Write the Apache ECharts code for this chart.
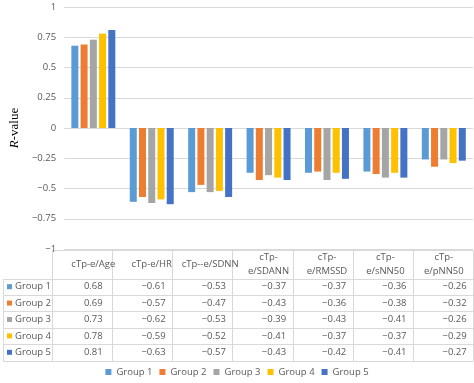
<!DOCTYPE html>
<html><head><meta charset="utf-8">
<script src="https://cdn.jsdelivr.net/npm/echarts@6/dist/echarts.min.js"></script>
<style>html,body{margin:0;padding:0;background:#fff}#c{width:474px;height:383px}</style>
</head><body><div id="c"></div>
<script>
var categories = ['cTp-e/Age','cTp-e/HR','cTp--e/SDNN','cTp-\ne/SDANN','cTp-\ne/RMSSD','cTp-\ne/sNN50','cTp-\ne/pNN50'];
var groupNames = ['Group 1','Group 2','Group 3','Group 4','Group 5'];
var group1 = [0.68,-0.61,-0.53,-0.37,-0.37,-0.36,-0.26];
var group2 = [0.69,-0.57,-0.47,-0.43,-0.36,-0.38,-0.32];
var group3 = [0.73,-0.62,-0.53,-0.39,-0.43,-0.41,-0.26];
var group4 = [0.78,-0.59,-0.52,-0.41,-0.37,-0.37,-0.29];
var group5 = [0.81,-0.63,-0.57,-0.43,-0.42,-0.41,-0.27];
var colors = ['#5B9BD5','#ED7D31','#A5A5A5','#FFC000','#4472C4'];
var groups = [group1,group2,group3,group4,group5];

var FONT = 'Open Sans';
var FS = 9.5;
var TXT = '#595959';
var LINE = '#d9d9d9';
function fmt(v){ var s = Math.abs(v).toFixed(2); if (v < 0) return '\u2212' + s; if (v === 0) return '0'; return s; }
function fmtTick(v){ if (v === 0) return '0'; var s = String(Math.abs(v)); return (v < 0 ? '\u2212' : '') + s; }

var chart = echarts.init(document.getElementById('c'));
var G = {left:52, right:1, top:7, bottom:134};
var series = groups.map(function(g, k){
  return {name: groupNames[k], type:'bar', data:g, barWidth:7, barGap:'32%', itemStyle:{color:colors[k]}};
});
chart.setOption({
  animation:false,
  grid:{left:G.left, right:G.right, top:G.top, bottom:G.bottom},
  legend:{bottom:1, left:'center', itemWidth:6, itemHeight:6, itemGap:7, icon:'rect',
    textStyle:{fontFamily:FONT, fontSize:FS, color:TXT}, data:groupNames},
  xAxis:{type:'category', data:categories, position:'bottom',
    axisLine:{show:false}, axisTick:{show:false},
    axisLabel:{interval:0, margin:15.5, verticalAlign:'middle', lineHeight:14, fontFamily:FONT, fontSize:FS, color:TXT}},
  yAxis:{type:'value', min:-1, max:1, interval:0.25,
    name:'{i|R}-value', nameLocation:'middle', nameGap:35,
    nameTextStyle:{fontFamily:'Liberation Serif', fontSize:13, color:'#000',
      rich:{i:{fontFamily:'Liberation Serif', fontStyle:'italic', fontSize:13, color:'#000'}}},
    axisLine:{show:false}, axisTick:{show:false},
    splitLine:{lineStyle:{color:LINE, width:1}},
    axisLabel:{margin:8, fontFamily:FONT, fontSize:FS, color:TXT, formatter:fmtTick}},
  series:series
});

// data table built from the same arrays
var x0 = 3, xL = G.left, xR = 474 - G.right;
var yTop = chart.convertToPixel({yAxisIndex:0}, -1) + 0.5;
var yHead = yTop + 29;
var rowH = 16.4;
var gr = [];
function hline(y, xa, xb){ gr.push({type:'line', shape:{x1:xa,y1:y,x2:xb,y2:y}, style:{stroke:LINE, lineWidth:1}, silent:true}); }
function vline(x, ya, yb){ gr.push({type:'line', shape:{x1:x,y1:ya,x2:x,y2:yb}, style:{stroke:LINE, lineWidth:1}, silent:true}); }
var yEnd = yHead + rowH * groups.length;
hline(Math.round(yTop)+0.5, xL, xR);
for (var r = 0; r <= groups.length; r++) hline(Math.round(yHead + r*rowH)+0.5, x0, xR);
vline(x0+0.5, Math.round(yHead)+0.5, Math.round(yEnd)+0.5);
var colW = (xR - xL) / categories.length;
for (var c = 0; c <= categories.length; c++) vline(Math.round(xL + c*colW)+0.5, Math.round(yTop)+0.5, Math.round(yEnd)+0.5);
groups.forEach(function(g, k){
  var yc = yHead + rowH*(k+0.5);
  gr.push({type:'rect', shape:{x:7, y:yc-2.5, width:5, height:5}, style:{fill:colors[k]}, silent:true});
  gr.push({type:'text', x:15, y:yc, style:{text:groupNames[k], font:FS+'px "'+FONT+'"', fill:TXT, textVerticalAlign:'middle', textAlign:'left'}, silent:true});
  g.forEach(function(v, i){
    var xc = chart.convertToPixel({xAxisIndex:0}, i) + 1.8*i;
    gr.push({type:'text', x:xc, y:yc, style:{text:fmt(v), font:FS+'px "'+FONT+'"', fill:TXT, textVerticalAlign:'middle', textAlign:'center'}, silent:true});
  });
});
chart.setOption({graphic:gr});
</script>
</body></html>
